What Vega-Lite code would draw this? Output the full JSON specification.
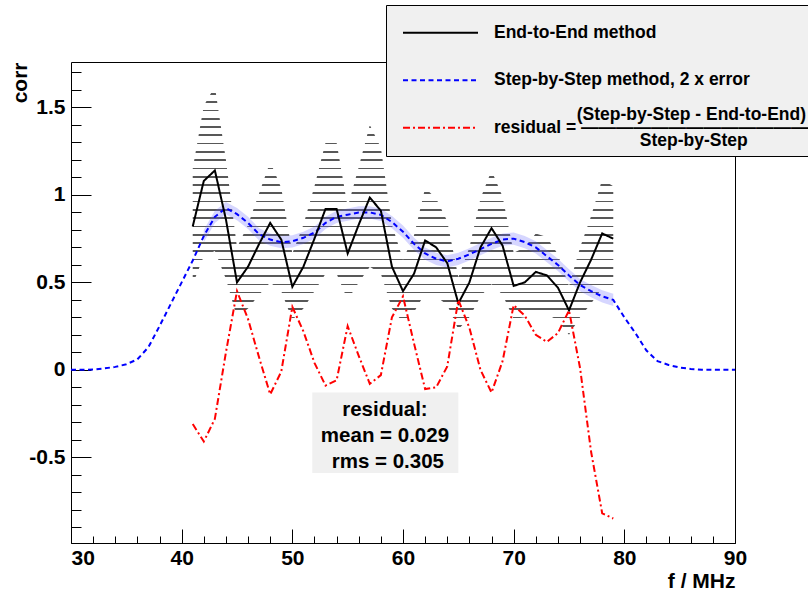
{
  "$schema": "https://vega.github.io/schema/vega-lite/v6.json",
  "width": 664,
  "height": 481,
  "autosize": {"type": "none"},
  "padding": {"left": 71, "top": 62, "right": 73, "bottom": 52},
  "background": "white",
  "datasets": {
    "lines": [
      {"series": "Step-by-Step method, 2 x error", "f": 30, "corr": 0},
      {"series": "Step-by-Step method, 2 x error", "f": 31, "corr": 0},
      {"series": "Step-by-Step method, 2 x error", "f": 32, "corr": 0.002},
      {"series": "Step-by-Step method, 2 x error", "f": 33, "corr": 0.008},
      {"series": "Step-by-Step method, 2 x error", "f": 34, "corr": 0.017},
      {"series": "Step-by-Step method, 2 x error", "f": 35, "corr": 0.032},
      {"series": "Step-by-Step method, 2 x error", "f": 36, "corr": 0.06},
      {"series": "Step-by-Step method, 2 x error", "f": 37, "corr": 0.13},
      {"series": "Step-by-Step method, 2 x error", "f": 38, "corr": 0.25},
      {"series": "Step-by-Step method, 2 x error", "f": 39, "corr": 0.375},
      {"series": "Step-by-Step method, 2 x error", "f": 40, "corr": 0.5},
      {"series": "Step-by-Step method, 2 x error", "f": 41, "corr": 0.625},
      {"series": "Step-by-Step method, 2 x error", "f": 42, "corr": 0.765},
      {"series": "Step-by-Step method, 2 x error", "f": 43, "corr": 0.875},
      {"series": "Step-by-Step method, 2 x error", "f": 44, "corr": 0.925},
      {"series": "Step-by-Step method, 2 x error", "f": 45, "corr": 0.89},
      {"series": "Step-by-Step method, 2 x error", "f": 46, "corr": 0.84},
      {"series": "Step-by-Step method, 2 x error", "f": 47, "corr": 0.775},
      {"series": "Step-by-Step method, 2 x error", "f": 48, "corr": 0.745},
      {"series": "Step-by-Step method, 2 x error", "f": 49, "corr": 0.73},
      {"series": "Step-by-Step method, 2 x error", "f": 50, "corr": 0.735},
      {"series": "Step-by-Step method, 2 x error", "f": 51, "corr": 0.755},
      {"series": "Step-by-Step method, 2 x error", "f": 52, "corr": 0.785},
      {"series": "Step-by-Step method, 2 x error", "f": 53, "corr": 0.84},
      {"series": "Step-by-Step method, 2 x error", "f": 54, "corr": 0.875},
      {"series": "Step-by-Step method, 2 x error", "f": 55, "corr": 0.887},
      {"series": "Step-by-Step method, 2 x error", "f": 56, "corr": 0.9},
      {"series": "Step-by-Step method, 2 x error", "f": 57, "corr": 0.9},
      {"series": "Step-by-Step method, 2 x error", "f": 58, "corr": 0.886},
      {"series": "Step-by-Step method, 2 x error", "f": 59, "corr": 0.845},
      {"series": "Step-by-Step method, 2 x error", "f": 60, "corr": 0.79},
      {"series": "Step-by-Step method, 2 x error", "f": 61, "corr": 0.72},
      {"series": "Step-by-Step method, 2 x error", "f": 62, "corr": 0.665},
      {"series": "Step-by-Step method, 2 x error", "f": 63, "corr": 0.635},
      {"series": "Step-by-Step method, 2 x error", "f": 64, "corr": 0.62},
      {"series": "Step-by-Step method, 2 x error", "f": 65, "corr": 0.635},
      {"series": "Step-by-Step method, 2 x error", "f": 66, "corr": 0.66},
      {"series": "Step-by-Step method, 2 x error", "f": 67, "corr": 0.69},
      {"series": "Step-by-Step method, 2 x error", "f": 68, "corr": 0.72},
      {"series": "Step-by-Step method, 2 x error", "f": 69, "corr": 0.745},
      {"series": "Step-by-Step method, 2 x error", "f": 70, "corr": 0.75},
      {"series": "Step-by-Step method, 2 x error", "f": 71, "corr": 0.73},
      {"series": "Step-by-Step method, 2 x error", "f": 72, "corr": 0.7},
      {"series": "Step-by-Step method, 2 x error", "f": 73, "corr": 0.65},
      {"series": "Step-by-Step method, 2 x error", "f": 74, "corr": 0.6},
      {"series": "Step-by-Step method, 2 x error", "f": 75, "corr": 0.54},
      {"series": "Step-by-Step method, 2 x error", "f": 76, "corr": 0.485},
      {"series": "Step-by-Step method, 2 x error", "f": 77, "corr": 0.45},
      {"series": "Step-by-Step method, 2 x error", "f": 78, "corr": 0.42},
      {"series": "Step-by-Step method, 2 x error", "f": 79, "corr": 0.4},
      {"series": "Step-by-Step method, 2 x error", "f": 80, "corr": 0.3},
      {"series": "Step-by-Step method, 2 x error", "f": 81, "corr": 0.21},
      {"series": "Step-by-Step method, 2 x error", "f": 82, "corr": 0.11},
      {"series": "Step-by-Step method, 2 x error", "f": 83, "corr": 0.05},
      {"series": "Step-by-Step method, 2 x error", "f": 84, "corr": 0.028},
      {"series": "Step-by-Step method, 2 x error", "f": 85, "corr": 0.013},
      {"series": "Step-by-Step method, 2 x error", "f": 86, "corr": 0.005},
      {"series": "Step-by-Step method, 2 x error", "f": 87, "corr": 0.001},
      {"series": "Step-by-Step method, 2 x error", "f": 88, "corr": 0},
      {"series": "Step-by-Step method, 2 x error", "f": 89, "corr": 0},
      {"series": "Step-by-Step method, 2 x error", "f": 90, "corr": 0},
      {"series": "End-to-End method", "f": 41, "corr": 0.82},
      {"series": "End-to-End method", "f": 42, "corr": 1.08},
      {"series": "End-to-End method", "f": 43, "corr": 1.14},
      {"series": "End-to-End method", "f": 44, "corr": 0.86},
      {"series": "End-to-End method", "f": 45, "corr": 0.5},
      {"series": "End-to-End method", "f": 46, "corr": 0.59},
      {"series": "End-to-End method", "f": 47, "corr": 0.72},
      {"series": "End-to-End method", "f": 48, "corr": 0.84},
      {"series": "End-to-End method", "f": 49, "corr": 0.745},
      {"series": "End-to-End method", "f": 50, "corr": 0.475},
      {"series": "End-to-End method", "f": 51, "corr": 0.59},
      {"series": "End-to-End method", "f": 52, "corr": 0.75},
      {"series": "End-to-End method", "f": 53, "corr": 0.92},
      {"series": "End-to-End method", "f": 54, "corr": 0.92},
      {"series": "End-to-End method", "f": 55, "corr": 0.665},
      {"series": "End-to-End method", "f": 56, "corr": 0.83},
      {"series": "End-to-End method", "f": 57, "corr": 0.985},
      {"series": "End-to-End method", "f": 58, "corr": 0.91},
      {"series": "End-to-End method", "f": 59, "corr": 0.59},
      {"series": "End-to-End method", "f": 60, "corr": 0.45},
      {"series": "End-to-End method", "f": 61, "corr": 0.55},
      {"series": "End-to-End method", "f": 62, "corr": 0.74},
      {"series": "End-to-End method", "f": 63, "corr": 0.7},
      {"series": "End-to-End method", "f": 64, "corr": 0.61},
      {"series": "End-to-End method", "f": 65, "corr": 0.38},
      {"series": "End-to-End method", "f": 66, "corr": 0.5},
      {"series": "End-to-End method", "f": 67, "corr": 0.7},
      {"series": "End-to-End method", "f": 68, "corr": 0.81},
      {"series": "End-to-End method", "f": 69, "corr": 0.71},
      {"series": "End-to-End method", "f": 70, "corr": 0.48},
      {"series": "End-to-End method", "f": 71, "corr": 0.5},
      {"series": "End-to-End method", "f": 72, "corr": 0.56},
      {"series": "End-to-End method", "f": 73, "corr": 0.54},
      {"series": "End-to-End method", "f": 74, "corr": 0.47},
      {"series": "End-to-End method", "f": 75, "corr": 0.34},
      {"series": "End-to-End method", "f": 76, "corr": 0.5},
      {"series": "End-to-End method", "f": 77, "corr": 0.63},
      {"series": "End-to-End method", "f": 78, "corr": 0.78},
      {"series": "End-to-End method", "f": 79, "corr": 0.75},
      {"series": "residual", "f": 41, "corr": -0.31},
      {"series": "residual", "f": 42, "corr": -0.41},
      {"series": "residual", "f": 43, "corr": -0.28},
      {"series": "residual", "f": 44, "corr": 0.1},
      {"series": "residual", "f": 45, "corr": 0.45},
      {"series": "residual", "f": 46, "corr": 0.29},
      {"series": "residual", "f": 47, "corr": 0.07},
      {"series": "residual", "f": 48, "corr": -0.14},
      {"series": "residual", "f": 49, "corr": -0.01},
      {"series": "residual", "f": 50, "corr": 0.36},
      {"series": "residual", "f": 51, "corr": 0.22},
      {"series": "residual", "f": 52, "corr": 0.04},
      {"series": "residual", "f": 53, "corr": -0.09},
      {"series": "residual", "f": 54, "corr": -0.06},
      {"series": "residual", "f": 55, "corr": 0.25},
      {"series": "residual", "f": 56, "corr": 0.08},
      {"series": "residual", "f": 57, "corr": -0.08},
      {"series": "residual", "f": 58, "corr": -0.03},
      {"series": "residual", "f": 59, "corr": 0.3},
      {"series": "residual", "f": 60, "corr": 0.42},
      {"series": "residual", "f": 61, "corr": 0.15},
      {"series": "residual", "f": 62, "corr": -0.11},
      {"series": "residual", "f": 63, "corr": -0.1},
      {"series": "residual", "f": 64, "corr": 0.02},
      {"series": "residual", "f": 65, "corr": 0.4},
      {"series": "residual", "f": 66, "corr": 0.24},
      {"series": "residual", "f": 67, "corr": 0.0},
      {"series": "residual", "f": 68, "corr": -0.13},
      {"series": "residual", "f": 69, "corr": 0.05},
      {"series": "residual", "f": 70, "corr": 0.37},
      {"series": "residual", "f": 71, "corr": 0.31},
      {"series": "residual", "f": 72, "corr": 0.2},
      {"series": "residual", "f": 73, "corr": 0.16},
      {"series": "residual", "f": 74, "corr": 0.21},
      {"series": "residual", "f": 75, "corr": 0.34},
      {"series": "residual", "f": 76, "corr": 0.01},
      {"series": "residual", "f": 77, "corr": -0.47},
      {"series": "residual", "f": 78, "corr": -0.82},
      {"series": "residual", "f": 79, "corr": -0.85}
    ],
    "band": [
      {"f": 41, "lo": 0.49, "hi": 1.15},
      {"f": 42, "lo": 0.65, "hi": 1.51},
      {"f": 43, "lo": 0.68, "hi": 1.62},
      {"f": 44, "lo": 0.52, "hi": 1.2},
      {"f": 45, "lo": 0.3, "hi": 0.7},
      {"f": 46, "lo": 0.35, "hi": 0.83},
      {"f": 47, "lo": 0.43, "hi": 1.01},
      {"f": 48, "lo": 0.5, "hi": 1.19},
      {"f": 49, "lo": 0.45, "hi": 1.04},
      {"f": 50, "lo": 0.285, "hi": 0.665},
      {"f": 51, "lo": 0.35, "hi": 0.83},
      {"f": 52, "lo": 0.45, "hi": 1.05},
      {"f": 53, "lo": 0.55, "hi": 1.3},
      {"f": 54, "lo": 0.55, "hi": 1.3},
      {"f": 55, "lo": 0.4, "hi": 0.93},
      {"f": 56, "lo": 0.5, "hi": 1.16},
      {"f": 57, "lo": 0.59, "hi": 1.4},
      {"f": 58, "lo": 0.55, "hi": 1.27},
      {"f": 59, "lo": 0.35, "hi": 0.83},
      {"f": 60, "lo": 0.27, "hi": 0.63},
      {"f": 61, "lo": 0.33, "hi": 0.77},
      {"f": 62, "lo": 0.44, "hi": 1.04},
      {"f": 63, "lo": 0.42, "hi": 0.98},
      {"f": 64, "lo": 0.37, "hi": 0.85},
      {"f": 65, "lo": 0.23, "hi": 0.53},
      {"f": 66, "lo": 0.3, "hi": 0.7},
      {"f": 67, "lo": 0.42, "hi": 0.98},
      {"f": 68, "lo": 0.49, "hi": 1.14},
      {"f": 69, "lo": 0.43, "hi": 0.99},
      {"f": 70, "lo": 0.29, "hi": 0.67},
      {"f": 71, "lo": 0.3, "hi": 0.7},
      {"f": 72, "lo": 0.34, "hi": 0.78},
      {"f": 73, "lo": 0.32, "hi": 0.76},
      {"f": 74, "lo": 0.28, "hi": 0.66},
      {"f": 75, "lo": 0.2, "hi": 0.48},
      {"f": 76, "lo": 0.3, "hi": 0.7},
      {"f": 77, "lo": 0.38, "hi": 0.88},
      {"f": 78, "lo": 0.47, "hi": 1.09},
      {"f": 79, "lo": 0.45, "hi": 1.05}
    ],
    "bband": [
      {"f": 42, "lo": 0.73, "hi": 0.8},
      {"f": 43, "lo": 0.84, "hi": 0.91},
      {"f": 44, "lo": 0.89, "hi": 0.96},
      {"f": 45, "lo": 0.855, "hi": 0.925},
      {"f": 46, "lo": 0.805, "hi": 0.875},
      {"f": 47, "lo": 0.74, "hi": 0.81},
      {"f": 48, "lo": 0.71, "hi": 0.78},
      {"f": 49, "lo": 0.695, "hi": 0.765},
      {"f": 50, "lo": 0.7, "hi": 0.77},
      {"f": 51, "lo": 0.72, "hi": 0.79},
      {"f": 52, "lo": 0.75, "hi": 0.82},
      {"f": 53, "lo": 0.805, "hi": 0.875},
      {"f": 54, "lo": 0.84, "hi": 0.91},
      {"f": 55, "lo": 0.852, "hi": 0.922},
      {"f": 56, "lo": 0.865, "hi": 0.935},
      {"f": 57, "lo": 0.865, "hi": 0.935},
      {"f": 58, "lo": 0.851, "hi": 0.921},
      {"f": 59, "lo": 0.81, "hi": 0.88},
      {"f": 60, "lo": 0.755, "hi": 0.825},
      {"f": 61, "lo": 0.685, "hi": 0.755},
      {"f": 62, "lo": 0.63, "hi": 0.7},
      {"f": 63, "lo": 0.6, "hi": 0.67},
      {"f": 64, "lo": 0.585, "hi": 0.655},
      {"f": 65, "lo": 0.6, "hi": 0.67},
      {"f": 66, "lo": 0.625, "hi": 0.695},
      {"f": 67, "lo": 0.655, "hi": 0.725},
      {"f": 68, "lo": 0.685, "hi": 0.755},
      {"f": 69, "lo": 0.71, "hi": 0.78},
      {"f": 70, "lo": 0.715, "hi": 0.785},
      {"f": 71, "lo": 0.695, "hi": 0.765},
      {"f": 72, "lo": 0.665, "hi": 0.735},
      {"f": 73, "lo": 0.615, "hi": 0.685},
      {"f": 74, "lo": 0.565, "hi": 0.635},
      {"f": 75, "lo": 0.505, "hi": 0.575},
      {"f": 76, "lo": 0.45, "hi": 0.52},
      {"f": 77, "lo": 0.415, "hi": 0.485},
      {"f": 78, "lo": 0.385, "hi": 0.455},
      {"f": 79, "lo": 0.365, "hi": 0.435}
    ]
  },
  "resolve": {"axis": {"x": "independent", "y": "independent"}},
  "layer": [
    {
      "data": {"name": "band"},
      "mark": {
        "type": "area",
        "fill": {
          "gradient": "linear", "x1": 0, "y1": 0, "x2": 0, "y2": 1,
          "stops": [
            {"offset": 0, "color": "rgba(255,255,255,0)"}, {"offset": 0.0267, "color": "rgba(255,255,255,0)"}, {"offset": 0.0267, "color": "#585858"}, {"offset": 0.0333, "color": "#585858"},
            {"offset": 0.0333, "color": "rgba(255,255,255,0)"}, {"offset": 0.06, "color": "rgba(255,255,255,0)"}, {"offset": 0.06, "color": "#585858"}, {"offset": 0.0667, "color": "#585858"},
            {"offset": 0.0667, "color": "rgba(255,255,255,0)"}, {"offset": 0.0933, "color": "rgba(255,255,255,0)"}, {"offset": 0.0933, "color": "#585858"}, {"offset": 0.1, "color": "#585858"},
            {"offset": 0.1, "color": "rgba(255,255,255,0)"}, {"offset": 0.1267, "color": "rgba(255,255,255,0)"}, {"offset": 0.1267, "color": "#585858"}, {"offset": 0.1333, "color": "#585858"},
            {"offset": 0.1333, "color": "rgba(255,255,255,0)"}, {"offset": 0.16, "color": "rgba(255,255,255,0)"}, {"offset": 0.16, "color": "#585858"}, {"offset": 0.1667, "color": "#585858"},
            {"offset": 0.1667, "color": "rgba(255,255,255,0)"}, {"offset": 0.1933, "color": "rgba(255,255,255,0)"}, {"offset": 0.1933, "color": "#585858"}, {"offset": 0.2, "color": "#585858"},
            {"offset": 0.2, "color": "rgba(255,255,255,0)"}, {"offset": 0.2267, "color": "rgba(255,255,255,0)"}, {"offset": 0.2267, "color": "#585858"}, {"offset": 0.2333, "color": "#585858"},
            {"offset": 0.2333, "color": "rgba(255,255,255,0)"}, {"offset": 0.26, "color": "rgba(255,255,255,0)"}, {"offset": 0.26, "color": "#585858"}, {"offset": 0.2667, "color": "#585858"},
            {"offset": 0.2667, "color": "rgba(255,255,255,0)"}, {"offset": 0.2933, "color": "rgba(255,255,255,0)"}, {"offset": 0.2933, "color": "#585858"}, {"offset": 0.3, "color": "#585858"},
            {"offset": 0.3, "color": "rgba(255,255,255,0)"}, {"offset": 0.3267, "color": "rgba(255,255,255,0)"}, {"offset": 0.3267, "color": "#585858"}, {"offset": 0.3333, "color": "#585858"},
            {"offset": 0.3333, "color": "rgba(255,255,255,0)"}, {"offset": 0.36, "color": "rgba(255,255,255,0)"}, {"offset": 0.36, "color": "#585858"}, {"offset": 0.3667, "color": "#585858"},
            {"offset": 0.3667, "color": "rgba(255,255,255,0)"}, {"offset": 0.3933, "color": "rgba(255,255,255,0)"}, {"offset": 0.3933, "color": "#585858"}, {"offset": 0.4, "color": "#585858"},
            {"offset": 0.4, "color": "rgba(255,255,255,0)"}, {"offset": 0.4267, "color": "rgba(255,255,255,0)"}, {"offset": 0.4267, "color": "#585858"}, {"offset": 0.4333, "color": "#585858"},
            {"offset": 0.4333, "color": "rgba(255,255,255,0)"}, {"offset": 0.46, "color": "rgba(255,255,255,0)"}, {"offset": 0.46, "color": "#585858"}, {"offset": 0.4667, "color": "#585858"},
            {"offset": 0.4667, "color": "rgba(255,255,255,0)"}, {"offset": 0.4933, "color": "rgba(255,255,255,0)"}, {"offset": 0.4933, "color": "#585858"}, {"offset": 0.5, "color": "#585858"},
            {"offset": 0.5, "color": "rgba(255,255,255,0)"}, {"offset": 0.5267, "color": "rgba(255,255,255,0)"}, {"offset": 0.5267, "color": "#585858"}, {"offset": 0.5333, "color": "#585858"},
            {"offset": 0.5333, "color": "rgba(255,255,255,0)"}, {"offset": 0.56, "color": "rgba(255,255,255,0)"}, {"offset": 0.56, "color": "#585858"}, {"offset": 0.5667, "color": "#585858"},
            {"offset": 0.5667, "color": "rgba(255,255,255,0)"}, {"offset": 0.5933, "color": "rgba(255,255,255,0)"}, {"offset": 0.5933, "color": "#585858"}, {"offset": 0.6, "color": "#585858"},
            {"offset": 0.6, "color": "rgba(255,255,255,0)"}, {"offset": 0.6267, "color": "rgba(255,255,255,0)"}, {"offset": 0.6267, "color": "#585858"}, {"offset": 0.6333, "color": "#585858"},
            {"offset": 0.6333, "color": "rgba(255,255,255,0)"}, {"offset": 0.66, "color": "rgba(255,255,255,0)"}, {"offset": 0.66, "color": "#585858"}, {"offset": 0.6667, "color": "#585858"},
            {"offset": 0.6667, "color": "rgba(255,255,255,0)"}, {"offset": 0.6933, "color": "rgba(255,255,255,0)"}, {"offset": 0.6933, "color": "#585858"}, {"offset": 0.7, "color": "#585858"},
            {"offset": 0.7, "color": "rgba(255,255,255,0)"}, {"offset": 0.7267, "color": "rgba(255,255,255,0)"}, {"offset": 0.7267, "color": "#585858"}, {"offset": 0.7333, "color": "#585858"},
            {"offset": 0.7333, "color": "rgba(255,255,255,0)"}, {"offset": 0.76, "color": "rgba(255,255,255,0)"}, {"offset": 0.76, "color": "#585858"}, {"offset": 0.7667, "color": "#585858"},
            {"offset": 0.7667, "color": "rgba(255,255,255,0)"}, {"offset": 0.7933, "color": "rgba(255,255,255,0)"}, {"offset": 0.7933, "color": "#585858"}, {"offset": 0.8, "color": "#585858"},
            {"offset": 0.8, "color": "rgba(255,255,255,0)"}, {"offset": 0.8267, "color": "rgba(255,255,255,0)"}, {"offset": 0.8267, "color": "#585858"}, {"offset": 0.8333, "color": "#585858"},
            {"offset": 0.8333, "color": "rgba(255,255,255,0)"}, {"offset": 0.86, "color": "rgba(255,255,255,0)"}, {"offset": 0.86, "color": "#585858"}, {"offset": 0.8667, "color": "#585858"},
            {"offset": 0.8667, "color": "rgba(255,255,255,0)"}, {"offset": 0.8933, "color": "rgba(255,255,255,0)"}, {"offset": 0.8933, "color": "#585858"}, {"offset": 0.9, "color": "#585858"},
            {"offset": 0.9, "color": "rgba(255,255,255,0)"}, {"offset": 0.9267, "color": "rgba(255,255,255,0)"}, {"offset": 0.9267, "color": "#585858"}, {"offset": 0.9333, "color": "#585858"},
            {"offset": 0.9333, "color": "rgba(255,255,255,0)"}, {"offset": 0.96, "color": "rgba(255,255,255,0)"}, {"offset": 0.96, "color": "#585858"}, {"offset": 0.9667, "color": "#585858"},
            {"offset": 0.9667, "color": "rgba(255,255,255,0)"}, {"offset": 0.9933, "color": "rgba(255,255,255,0)"}, {"offset": 0.9933, "color": "#585858"}, {"offset": 1, "color": "#585858"}
          ]
        }
      },
      "encoding": {
        "x": {
          "field": "f", "type": "quantitative",
          "scale": {"domain": [30, 90], "nice": false, "zero": false},
          "axis": {
            "orient": "bottom", "values": [30, 40, 50, 60, 70, 80, 90], "format": "d",
            "ticks": false, "domain": false, "grid": false, "labelFlush": false, "labelOverlap": false,
            "labelPadding": 17,
            "labelAlign": {"condition": {"test": "datum.value == 30", "value": "left"}, "value": "center"},
            "title": "f / MHz", "titleX": 664, "titleY": 44, "titleAlign": "right", "titleAnchor": "end", "titleBaseline": "alphabetic"
          }
        },
        "y": {
          "field": "lo", "type": "quantitative",
          "scale": {"domain": [-0.99, 1.76], "nice": false, "zero": false},
          "axis": {
            "orient": "left", "values": [-0.5, 0, 0.5, 1, 1.5],
            "labelExpr": "replace(format(datum.value, '~g'), '\u2212', '-')",
            "ticks": false, "domain": false, "grid": false, "labelPadding": 6, "labelOffset": 13,
            "title": "corr", "titleX": -51, "titleY": 0, "titleAngle": 270, "titleAlign": "right", "titleBaseline": "middle"
          }
        },
        "y2": {"field": "hi"}
      }
    },
    {
      "data": {"name": "bband"},
      "mark": {"type": "area", "fill": "#5a5aff", "opacity": 0.25},
      "encoding": {
        "x": {
          "field": "f", "type": "quantitative",
          "axis": {"orient": "bottom", "values": [30, 40, 50, 60, 70, 80, 90], "labels": false, "domain": false, "grid": false, "tickSize": -14, "title": null}
        },
        "y": {
          "field": "lo", "type": "quantitative",
          "axis": {"orient": "left", "values": [-0.5, 0, 0.5, 1, 1.5], "labels": false, "domain": false, "grid": false, "tickSize": -20, "title": null}
        },
        "y2": {"field": "hi"}
      }
    },
    {
      "data": {"name": "lines"},
      "mark": {"type": "line", "strokeWidth": 2},
      "encoding": {
        "x": {
          "field": "f", "type": "quantitative",
          "axis": {"orient": "bottom", "values": [30, 32, 34, 36, 38, 40, 42, 44, 46, 48, 50, 52, 54, 56, 58, 60, 62, 64, 66, 68, 70, 72, 74, 76, 78, 80, 82, 84, 86, 88, 90], "labels": false, "domain": false, "grid": false, "tickSize": -7, "title": null}
        },
        "y": {
          "field": "corr", "type": "quantitative",
          "axis": {"orient": "left", "values": [-0.9, -0.8, -0.7, -0.6, -0.5, -0.4, -0.3, -0.2, -0.1, 0, 0.1, 0.2, 0.3, 0.4, 0.5, 0.6, 0.7, 0.8, 0.9, 1, 1.1, 1.2, 1.3, 1.4, 1.5, 1.6, 1.7], "labels": false, "domain": false, "grid": false, "tickSize": -10, "title": null}
        },
        "color": {
          "field": "series", "type": "nominal",
          "scale": {"domain": ["End-to-End method", "Step-by-Step method, 2 x error", "residual"], "range": ["#000000", "#0000ff", "#ff0000"]},
          "legend": {
            "orient": "none", "legendX": 315, "legendY": -57,
            "title": "\u200b\u00a0\u200b", "titleFontSize": 12, "titlePadding": 1, "titleFont": "Liberation Sans",
            "fillColor": "#f0f0f0", "strokeColor": "black", "padding": 6,
            "symbolType": "M0.3,0H10.3", "symbolSize": 225, "symbolStrokeWidth": 2,
            "labelFont": "Liberation Sans", "labelFontWeight": "bold", "labelFontSize": 17.5, "labelColor": "black",
            "labelLimit": 0, "labelOffset": 84.5, "rowPadding": 2.5,
            "labelExpr": "datum.label == 'residual' ? ['\u200b\u00a0\u00a0\u00a0\u00a0\u00a0\u00a0\u00a0\u00a0\u00a0\u00a0\u00a0\u00a0\u00a0\u00a0\u00a0\u00a0\u00a0(Step-by-Step - End-to-End)', 'residual = \u2014\u2014\u2014\u2014\u2014\u2014\u2014\u2014\u2014\u2014\u2014\u2014\u2014\u2014', '\u200b\u00a0\u00a0\u00a0\u00a0\u00a0\u00a0\u00a0\u00a0\u00a0\u00a0\u00a0\u00a0\u00a0\u00a0\u00a0\u00a0\u00a0\u00a0\u00a0\u00a0\u00a0\u00a0\u00a0\u00a0\u00a0\u00a0\u00a0\u00a0\u00a0\u00a0Step-by-Step'] : ['\u200b\u00a0\u200b', datum.label, '\u200b\u00a0\u200b']"
          }
        },
        "strokeDash": {
          "field": "series", "type": "nominal",
          "scale": {"domain": ["End-to-End method", "Step-by-Step method, 2 x error", "residual"], "range": [[1, 0], [5, 3.5], [7, 3, 2, 3]]}
        }
      }
    },
    {
      "data": {"values": [{"label": ""}]},
      "mark": {"type": "rect", "fill": "#f0f0f0"},
      "encoding": {
        "x": {"datum": 51.8, "type": "quantitative", "axis": null},
        "x2": {"datum": 65.0},
        "y": {"datum": -0.13, "type": "quantitative", "axis": null},
        "y2": {"datum": -0.59}
      }
    },
    {
      "data": {"values": [{"label": ["residual:", "mean = 0.029", "\u200b\u00a0rms = 0.305"]}]},
      "mark": {"type": "text", "font": "Liberation Sans", "fontWeight": "bold", "fontSize": 20.5, "lineHeight": 26, "align": "center", "baseline": "middle", "color": "black", "dy": 0},
      "encoding": {
        "x": {"datum": 58.37, "type": "quantitative", "axis": null},
        "y": {"datum": -0.229, "type": "quantitative", "axis": null},
        "text": {"field": "label", "type": "nominal"}
      }
    }
  ],
  "config": {
    "view": {"stroke": "black", "strokeWidth": 1},
    "font": "Liberation Sans",
    "axis": {
      "labelFont": "Liberation Sans", "labelFontWeight": "bold", "labelFontSize": 21, "labelColor": "black",
      "titleFont": "Liberation Sans", "titleFontWeight": "bold", "titleFontSize": 21, "titleColor": "black",
      "tickColor": "black", "tickWidth": 1, "grid": false, "domain": false
    },
    "style": {"guide-label": {"lineHeight": 13, "dy": -13}}
  }
}
